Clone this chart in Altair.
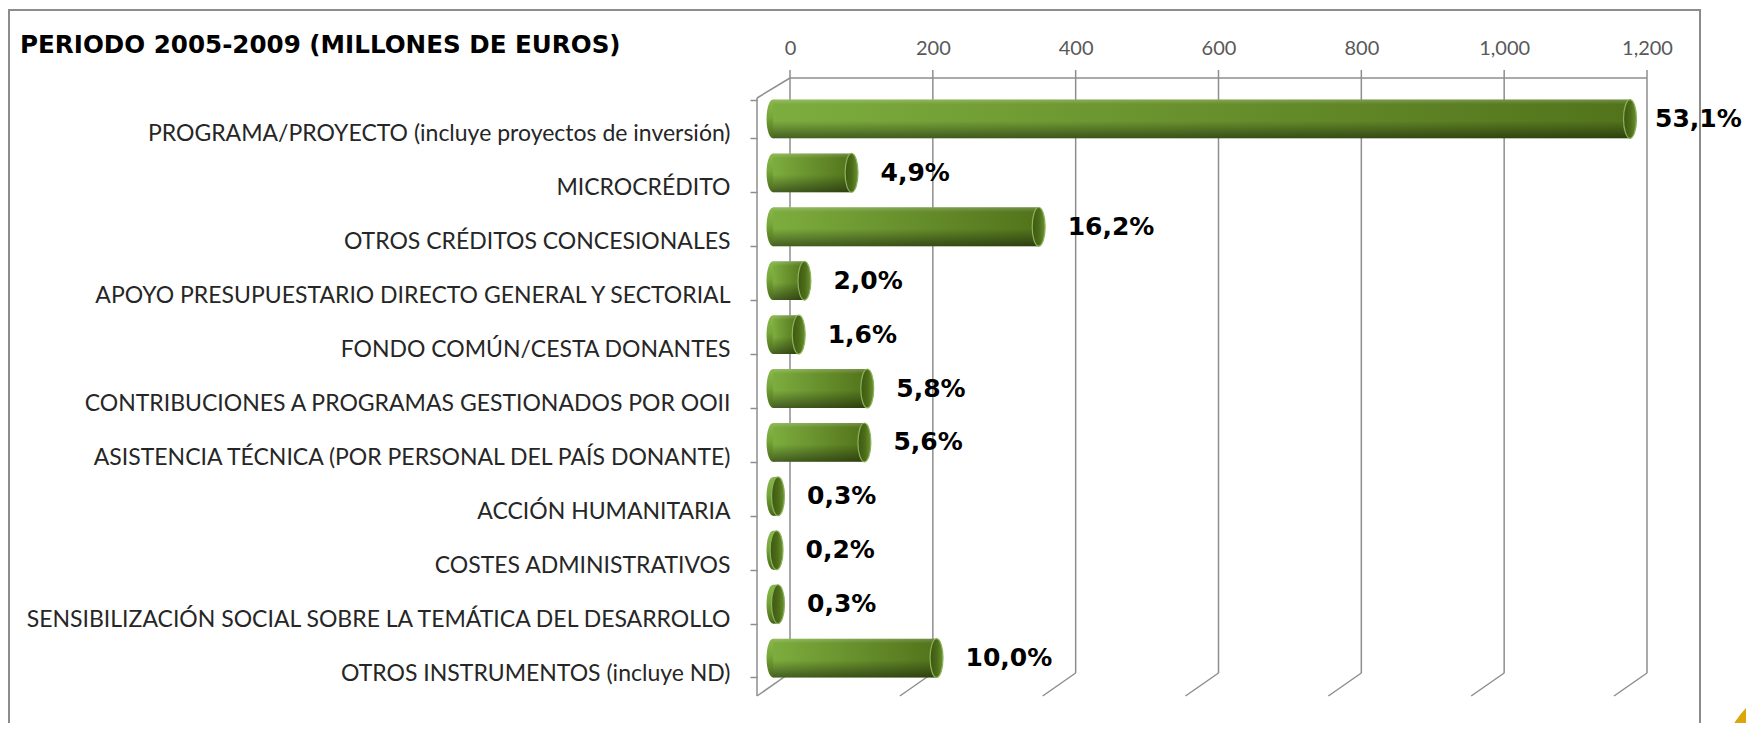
import altair as alt
import pandas as pd

categories = [
    "PROGRAMA/PROYECTO (incluye proyectos de inversión)",
    "MICROCRÉDITO",
    "OTROS CRÉDITOS CONCESIONALES",
    "APOYO PRESUPUESTARIO DIRECTO GENERAL Y SECTORIAL",
    "FONDO COMÚN/CESTA DONANTES",
    "CONTRIBUCIONES A PROGRAMAS GESTIONADOS POR OOII",
    "ASISTENCIA TÉCNICA (POR PERSONAL DEL PAÍS DONANTE)",
    "ACCIÓN HUMANITARIA",
    "COSTES ADMINISTRATIVOS",
    "SENSIBILIZACIÓN SOCIAL SOBRE LA TEMÁTICA DEL DESARROLLO",
    "OTROS INSTRUMENTOS (incluye ND)",
]
values = [1200, 110, 372, 44, 36, 132, 128, 7, 5, 7, 229]
pct_labels = ["53,1%", "4,9%", "16,2%", "2,0%", "1,6%", "5,8%", "5,6%",
              "0,3%", "0,2%", "0,3%", "10,0%"]
x_ticks = [0, 200, 400, 600, 800, 1000, 1200]
x_domain = [0, 1200]
title_text = "PERIODO 2005-2009 (MILLONES DE EUROS)"

W, H = 857, 593
GRID = "#8e8e8e"
BACK_DX, BACK_TOP, BACK_BOT = 17, -14, H - 12
FRONT_DX, FRONT_TOP, FRONT_BOT = -16, 6, H + 11

bars_df = pd.DataFrame({"cat": categories, "value": values, "pct": pct_labels})
grid_df = pd.DataFrame({"t": x_ticks})
frame_df = pd.DataFrame({"a": [x_domain[0]], "b": [x_domain[1]]})
one = pd.DataFrame({"k": [0]})

xs = alt.Scale(domain=x_domain, nice=False, zero=True)
ys = alt.Scale(paddingInner=0.28, paddingOuter=0.14)

X_AXIS = alt.Axis(
    orient="top", values=x_ticks, format=",.0f", grid=False, domain=False,
    ticks=False, tickSize=0, labelOffset=BACK_DX, labelPadding=34,
    labelFlush=False, labelFont="Lato", labelFontSize=20,
    labelColor="#595959", title=None)
Y_AXIS = alt.Axis(
    orient="left", offset=16, tickBand="extent", tickOffset=6, tickSize=7,
    tickColor=GRID, tickWidth=1.5, domain=False, labelOffset=15,
    labelPadding=20, labelLimit=1000, labelFont="Lato", labelFontSize=23,
    labelColor="#262626", title=None)


def X(field):
    return alt.X(field, scale=xs, axis=X_AXIS)


Y = alt.Y("cat:N", sort=categories, scale=ys, axis=Y_AXIS)

ELL = ("M0,-1C0.184,-1,0.333,-0.552,0.333,0C0.333,0.552,0.184,1,0,1"
       "C-0.184,1,-0.333,0.552,-0.333,0C-0.333,-0.552,-0.184,-1,0,-1Z")
ELL_SIZE = 1505


def grad(stops, x1=0, y1=0, x2=1, y2=0):
    return alt.Gradient(gradient="linear", x1=x1, y1=y1, x2=x2, y2=y2,
                        stops=[alt.GradientStop(offset=o, color=c) for o, c in stops])


body_grad = grad([(0, "#7DAD3E"), (1, "#52731B")])
shade_grad = grad([(0, "rgba(255,255,255,0.20)"), (0.12, "rgba(255,255,255,0)"),
                   (0.55, "rgba(0,0,0,0)"), (1, "rgba(0,0,0,0.45)")], 0, 0, 0, 1)
left_grad = grad([(0, "#8AB84E"), (0.45, "#76A638"), (1, "#4A6919")], 0, 0, 0, 1)
cap_grad = grad([(0, "#3C5811"), (0.55, "#4D6D19"), (1, "#6B9334")])

border = alt.Chart(one).mark_rect(fillOpacity=0, stroke="#8c8c8c", strokeWidth=2).encode(
    x=alt.value(-764), x2=alt.value(927), y=alt.value(-82), y2=alt.value(700))

corner = alt.Chart(one).mark_point(
    shape="circle", size=31700, filled=True, color="#DDA50C", opacity=1
).encode(x=alt.value(1037), y=alt.value(678))

title = alt.Chart(one).mark_text(
    text=title_text, align="left", baseline="alphabetic", font="DejaVu Sans",
    fontWeight="bold", fontSize=24.6, color="#000000"
).encode(x=alt.value(-753), y=alt.value(-39))

vgrid = alt.Chart(grid_df).mark_rule(color=GRID, strokeWidth=1.5, xOffset=BACK_DX).encode(
    x=X("t:Q"), y=alt.value(BACK_TOP - 8), y2=alt.value(BACK_BOT))

diag = alt.Chart(grid_df).mark_rule(color=GRID, strokeWidth=1.5, xOffset=BACK_DX,
                                    x2Offset=FRONT_DX).encode(
    x=X("t:Q"), x2="t:Q", y=alt.value(BACK_BOT), y2=alt.value(FRONT_BOT))

top_line = alt.Chart(frame_df).mark_rule(color=GRID, strokeWidth=1.5, xOffset=BACK_DX,
                                         x2Offset=BACK_DX).encode(
    x=X("a:Q"), x2="b:Q", y=alt.value(BACK_TOP))

tl_diag = alt.Chart(frame_df).mark_rule(color=GRID, strokeWidth=1.5, xOffset=BACK_DX,
                                        x2Offset=FRONT_DX).encode(
    x=X("a:Q"), x2="a:Q", y=alt.value(BACK_TOP), y2=alt.value(FRONT_TOP))

front_line = alt.Chart(frame_df).mark_rule(color=GRID, strokeWidth=1.5, xOffset=FRONT_DX).encode(
    x=X("a:Q"), y=alt.value(FRONT_TOP), y2=alt.value(FRONT_BOT))

left_cap = alt.Chart(bars_df).transform_calculate(zero="0").mark_point(
    shape=ELL, size=ELL_SIZE, filled=True, fill=left_grad, strokeWidth=0, opacity=1
).encode(x=X("zero:Q"), y=Y)

body = alt.Chart(bars_df).mark_bar(fill=body_grad).encode(x=X("value:Q"), y=Y)

shade = alt.Chart(bars_df).mark_bar(fill=shade_grad).encode(x=X("value:Q"), y=Y)

right_cap = alt.Chart(bars_df).mark_point(
    shape=ELL, size=ELL_SIZE, filled=True, fill=cap_grad, stroke="#8DB35A",
    strokeWidth=1.2, opacity=1
).encode(x=X("value:Q"), y=Y)

label_style = dict(align="left", baseline="middle", font="DejaVu Sans",
                   fontWeight="bold", fontSize=25, color="#000000")
labels = alt.Chart(bars_df).transform_filter("datum.value < 1000").mark_text(
    dx=29, **label_style).encode(x=X("value:Q"), y=Y, text="pct:N")
labels_big = alt.Chart(bars_df).transform_filter("datum.value >= 1000").mark_text(
    dx=25, **label_style).encode(x=X("value:Q"), y=Y, text="pct:N")

chart = alt.layer(
    border, corner, title, vgrid, diag, top_line, tl_diag, front_line,
    left_cap, body, shade, right_cap, labels, labels_big
).properties(
    width=W, height=H,
    autosize=alt.AutoSizeParams(type="none"),
    padding={"left": 765, "top": 84, "right": 116, "bottom": 38},
    background="white",
).configure_view(stroke="transparent")

chart.save("out.html", embed_options={"renderer": "svg", "actions": False})
